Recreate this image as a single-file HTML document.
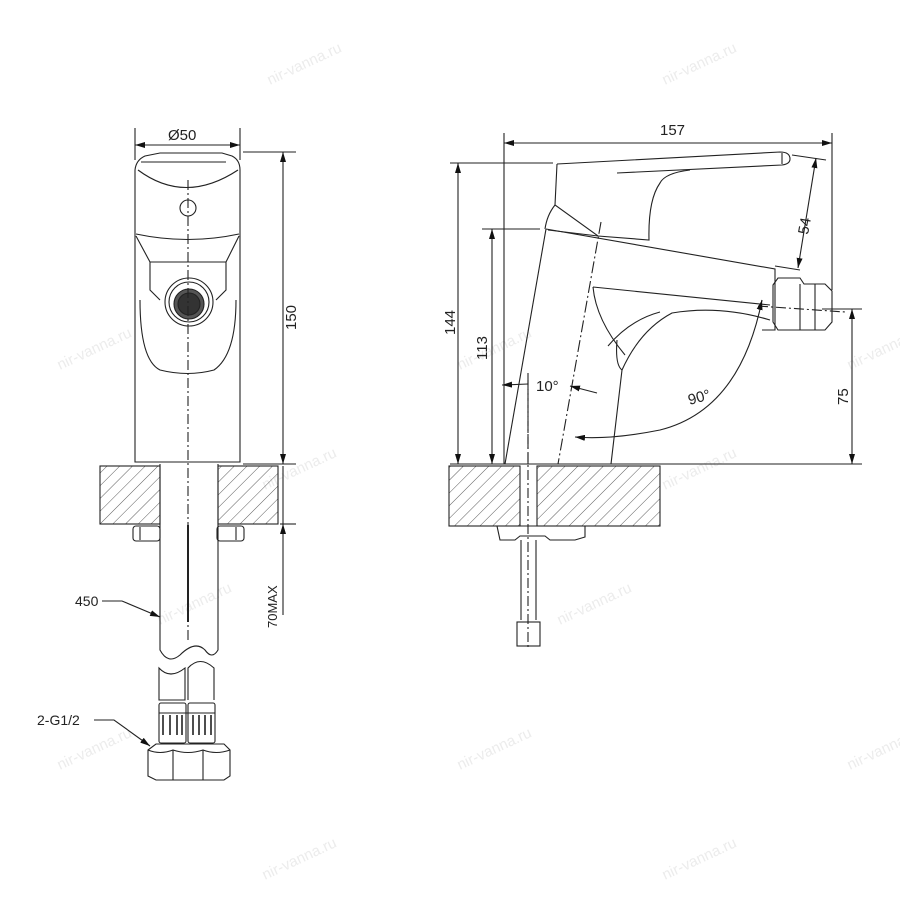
<!DOCTYPE html>
<html><head><meta charset="utf-8"><style>
html,body{margin:0;padding:0;background:#fff}
svg{display:block}
text{font-family:"Liberation Sans",sans-serif;fill:#222}
text.wm{fill:#ececec}
</style></head><body>
<svg width="900" height="900" viewBox="0 0 900 900" xmlns="http://www.w3.org/2000/svg">
<defs>
<pattern id="h" patternUnits="userSpaceOnUse" width="9" height="9" patternTransform="rotate(45)">
<line x1="0" y1="0" x2="0" y2="9" stroke="#333" stroke-width="0.8"/>
</pattern>
<marker id="a" viewBox="0 0 10 6" refX="10" refY="3" markerWidth="10" markerHeight="6" orient="auto-start-reverse" markerUnits="userSpaceOnUse">
<path d="M0,0 L10,3 L0,6z" fill="#111"/>
</marker>
</defs>

<!-- watermarks -->
<g font-size="15">
<text class="wm" x="270" y="85" transform="rotate(-25 270 85)">nir-vanna.ru</text>
<text class="wm" x="665" y="85" transform="rotate(-25 665 85)">nir-vanna.ru</text>
<text class="wm" x="60" y="370" transform="rotate(-25 60 370)">nir-vanna.ru</text>
<text class="wm" x="460" y="370" transform="rotate(-25 460 370)">nir-vanna.ru</text>
<text class="wm" x="850" y="370" transform="rotate(-25 850 370)">nir-vanna.ru</text>
<text class="wm" x="265" y="490" transform="rotate(-25 265 490)">nir-vanna.ru</text>
<text class="wm" x="665" y="490" transform="rotate(-25 665 490)">nir-vanna.ru</text>
<text class="wm" x="160" y="625" transform="rotate(-25 160 625)">nir-vanna.ru</text>
<text class="wm" x="560" y="625" transform="rotate(-25 560 625)">nir-vanna.ru</text>
<text class="wm" x="60" y="770" transform="rotate(-25 60 770)">nir-vanna.ru</text>
<text class="wm" x="460" y="770" transform="rotate(-25 460 770)">nir-vanna.ru</text>
<text class="wm" x="850" y="770" transform="rotate(-25 850 770)">nir-vanna.ru</text>
<text class="wm" x="265" y="880" transform="rotate(-25 265 880)">nir-vanna.ru</text>
<text class="wm" x="665" y="880" transform="rotate(-25 665 880)">nir-vanna.ru</text>
</g>

<g fill="none" stroke="#222" stroke-width="1.1">
<!-- LEFT VIEW -->
<line x1="135" y1="128" x2="135" y2="160"/>
<line x1="240" y1="128" x2="240" y2="160"/>
<line x1="135" y1="145" x2="240" y2="145" marker-start="url(#a)" marker-end="url(#a)"/>
<line x1="243" y1="152" x2="296" y2="152"/>
<line x1="243" y1="464" x2="296" y2="464"/>
<line x1="283" y1="152" x2="283" y2="464" marker-start="url(#a)" marker-end="url(#a)"/>
<path d="M135,170 Q136,160 145,156 L160,153 L222,153 L232,156 Q240,160 240,170 L240,462 L135,462 Z"/>
<path d="M141,162 L226,162 M138,170 Q185,205 238,170"/>
<path d="M136,234 Q188,245 239,234"/>
<path d="M136,236 L150,262 L150,290 L160,300 M239,236 L226,262 L226,290 L216,300"/>
<path d="M150,262 L226,262"/>
<path d="M140,300 Q140,360 160,370 Q188,377 214,370 Q236,355 236,300"/>
<circle cx="188" cy="208" r="8"/>
<circle cx="189" cy="302" r="24"/>
<circle cx="189" cy="302" r="20"/>
<circle cx="189" cy="304" r="15" fill="#555"/>
<circle cx="189" cy="304" r="11" fill="#333"/>
<line x1="188" y1="180" x2="188" y2="640" stroke-dasharray="10,3,2,3"/>
<rect x="100" y="466" width="60" height="58" fill="url(#h)"/>
<rect x="218" y="466" width="60" height="58" fill="url(#h)"/>
<line x1="280" y1="524" x2="296" y2="524"/>
<line x1="283" y1="466" x2="283" y2="524" />
<line x1="283" y1="615" x2="283" y2="524" marker-end="url(#a)"/>
<rect x="133" y="526" width="27" height="15" rx="3"/>
<rect x="217" y="526" width="27" height="15" rx="3"/>
<line x1="140" y1="527" x2="140" y2="540"/><line x1="236" y1="527" x2="236" y2="540"/>
<path d="M160,464 L160,650 Q168,665 180,655 Q195,640 205,650 Q212,660 218,650 L218,464"/>
<line x1="188" y1="525" x2="188" y2="622" stroke-width="2"/>
<path d="M159,668 Q170,680 185,668 L185,700 L159,700 Z"/>
<path d="M188,700 L188,668 Q200,655 214,668 L214,700"/>
<rect x="159" y="703" width="27" height="40" rx="2"/>
<rect x="188" y="703" width="27" height="40" rx="2"/>
<path d="M163,715 V735 M170,715 V735 M177,715 V735 M182,715 V735 M193,715 V735 M199,715 V735 M205,715 V735 M211,715 V735" stroke-width="1.6"/>
<line x1="159" y1="713" x2="215" y2="713"/>
<path d="M148,750 L156,744 L224,744 L230,750 L230,776 L224,780 L156,780 L148,776 Z"/>
<line x1="173" y1="750" x2="173" y2="780"/><line x1="203" y1="750" x2="203" y2="780"/>
<path d="M148,750 Q160,755 173,750 Q188,755 203,750 Q216,755 230,750"/>
<path d="M102,601 L122,601 L160,617" marker-end="url(#a)"/>
<path d="M94,720 L114,720 L150,746" marker-end="url(#a)"/>

<!-- RIGHT VIEW -->
<line x1="450" y1="464" x2="862" y2="464"/>
<rect x="449" y="466" width="71" height="60" fill="url(#h)"/>
<rect x="537" y="466" width="123" height="60" fill="url(#h)"/>
<path d="M497,526 L585,526 L585,537 L575,540 L550,540 L545,536 L520,536 L515,540 L500,540 Z"/>
<line x1="521" y1="540" x2="521" y2="620"/><line x1="536" y1="540" x2="536" y2="620"/>
<rect x="517" y="622" width="23" height="24"/>
<line x1="528" y1="380" x2="528" y2="650" stroke-dasharray="10,3,2,3"/>
<line x1="504" y1="133" x2="504" y2="464"/>
<line x1="832" y1="133" x2="832" y2="290"/>
<line x1="504" y1="143" x2="832" y2="143" marker-start="url(#a)" marker-end="url(#a)"/>
<line x1="450" y1="163" x2="553" y2="163"/>
<line x1="458" y1="163" x2="458" y2="464" marker-start="url(#a)" marker-end="url(#a)"/>
<line x1="482" y1="229" x2="540" y2="229"/>
<line x1="492" y1="229" x2="492" y2="464" marker-start="url(#a)" marker-end="url(#a)"/>
<line x1="822" y1="309" x2="862" y2="309"/>
<line x1="852" y1="309" x2="852" y2="464" marker-start="url(#a)" marker-end="url(#a)"/>
<line x1="792" y1="155" x2="826" y2="160"/>
<line x1="775" y1="266" x2="800" y2="270"/>
<line x1="816" y1="158" x2="798" y2="268" marker-start="url(#a)" marker-end="url(#a)"/>
<path d="M546,229 L505,464"/>
<path d="M546,229 L775,269 L775,330 L762,330"/>
<path d="M598,236 L548,230"/>
<path d="M593,287 L770,305 M593,287 Q596,320 625,355"/>
<path d="M622,370 Q640,330 672,313 Q720,305 770,320"/>
<path d="M617,340 Q615,365 622,370 L611,464"/>
<path d="M608,346 Q630,320 660,312"/>
<path d="M557,164 L780,152 Q790,152 790,159 Q790,164 782,165 L617,173"/>
<path d="M557,164 L555,205 L598,236 L649,240 Q648,200 660,183 Q665,173 690,170"/>
<line x1="782" y1="153" x2="782" y2="164"/>
<path d="M555,205 Q547,215 545,229"/>
<path d="M773,285 L778,278 L800,278 L804,284 L825,284 L832,291 L832,322 L825,330 L778,330 L773,322 Z"/>
<line x1="800" y1="284" x2="800" y2="330"/><line x1="815" y1="284" x2="815" y2="330"/>
<line x1="758" y1="306" x2="845" y2="312" stroke-dasharray="10,3,2,3"/>
<line x1="601" y1="222" x2="558" y2="464" stroke-dasharray="12,3,2,3"/>
<line x1="528" y1="373" x2="528" y2="464" stroke-dasharray="12,4"/>
<line x1="502" y1="385" x2="528" y2="384" marker-start="url(#a)"/>
<line x1="597" y1="393" x2="570" y2="386" marker-end="url(#a)"/>
<path d="M762,300 Q740,410 660,430 Q610,440 575,437" marker-end="url(#a)"/>
<line x1="762" y1="300" x2="760" y2="308" marker-start="url(#a)"/>
</g>

<g font-size="15">
<text x="168" y="140">Ø50</text>
<text x="660" y="135">157</text>
<text transform="translate(296,330) rotate(-90)">150</text>
<text transform="translate(455,335) rotate(-90)">144</text>
<text transform="translate(487,360) rotate(-90)">113</text>
<text transform="translate(808,235) rotate(-80)">54</text>
<text transform="translate(848,405) rotate(-90)">75</text>
<text transform="translate(277,628) rotate(-90)" font-size="13">70MAX</text>
<text x="536" y="391">10°</text>
<text x="688" y="402" transform="rotate(-15 700 398)">90°</text>
<text x="75" y="606" font-size="14">450</text>
<text x="37" y="725" font-size="14">2-G1/2</text>
</g>
</svg>
</body></html>
